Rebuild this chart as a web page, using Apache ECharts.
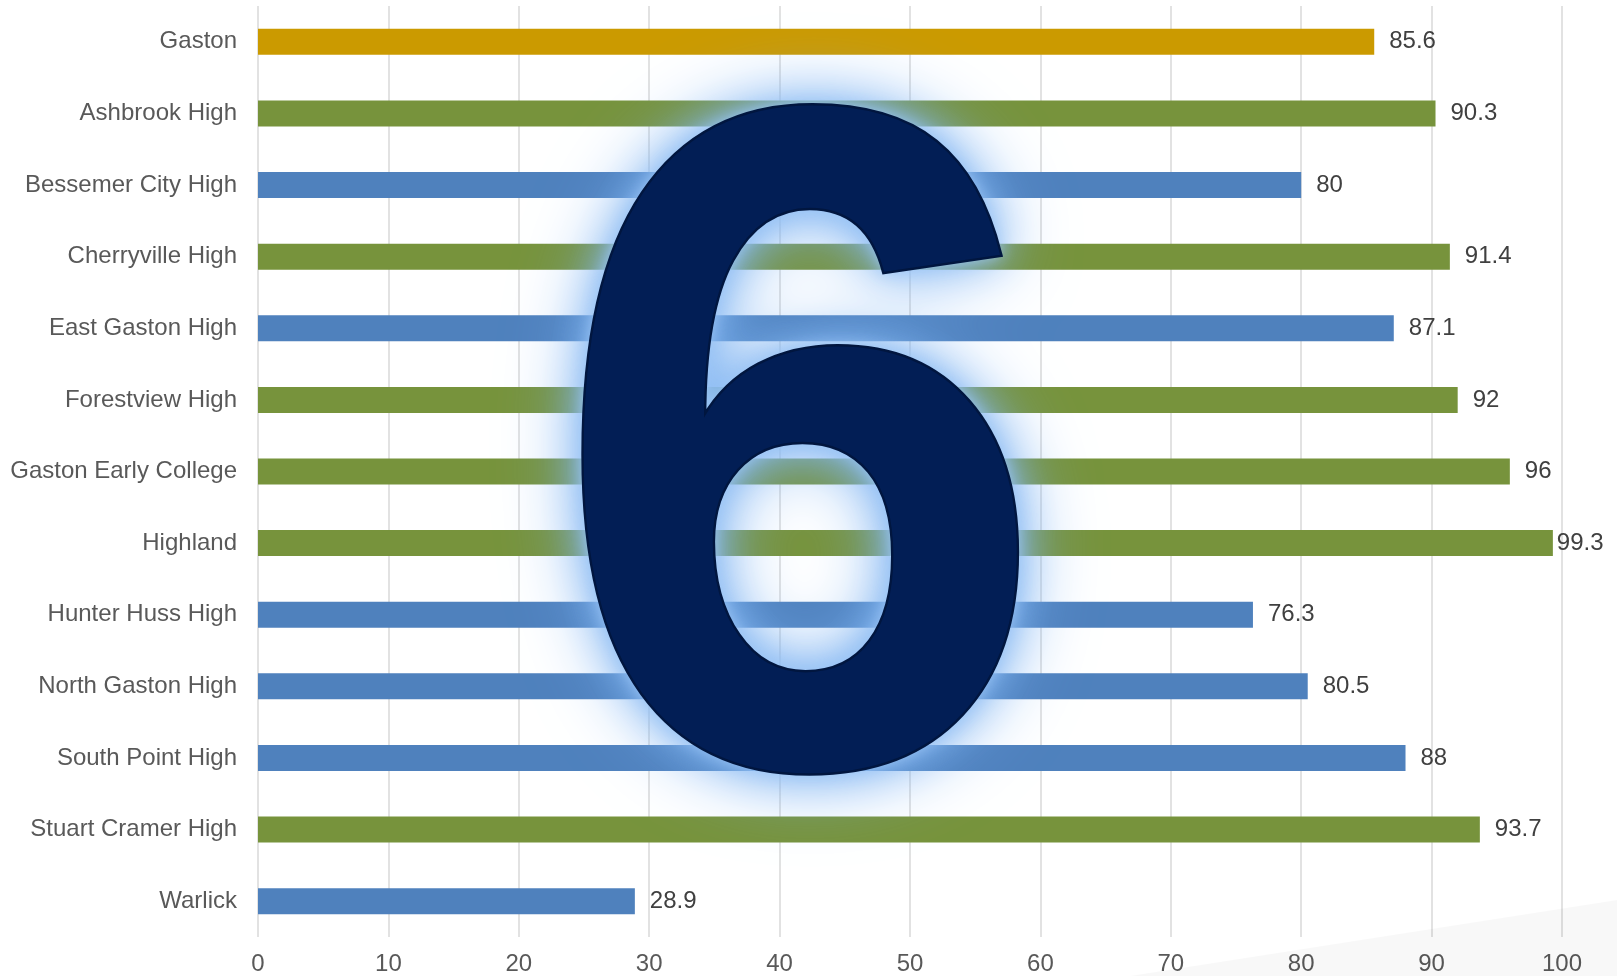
<!DOCTYPE html>
<html>
<head>
<meta charset="utf-8">
<script src="https://cdn.jsdelivr.net/npm/echarts@6/dist/echarts.min.js"></script>
<style>
html,body{margin:0;padding:0;background:#fff;}
#chart{width:1617px;height:976px;}
</style>
</head>
<body>
<div id="chart"></div>
<script>
const categories = ['Gaston','Ashbrook High','Bessemer City High','Cherryville High','East Gaston High','Forestview High','Gaston Early College','Highland','Hunter Huss High','North Gaston High','South Point High','Stuart Cramer High','Warlick'];
const values = [85.6, 90.3, 80, 91.4, 87.1, 92, 96, 99.3, 76.3, 80.5, 88, 93.7, 28.9];
const groups = ['district','high','low','high','low','high','high','high','low','low','low','high','low'];
const xTicks = [0,10,20,30,40,50,60,70,80,90,100];
const overlayText = '6';

const groupColors = {district:'#CB9A00', high:'#77933C', low:'#4F81BD'};
const FONT = 'Liberation Sans';

const chart = echarts.init(document.getElementById('chart'), null, {renderer:'canvas'});
const data = values.map((v,i)=>{
  const item = {value:v, itemStyle:{color:groupColors[groups[i]]}};
  if (v > 98) item.label = {distance:4};
  return item;
});
function sixLayer(z, extra){
  return Object.assign({type:'text', z:z, x:800, y:504, scaleX:0.95, scaleY:1, silent:true,
    style:Object.assign({text:overlayText, x:0, y:0, fontSize:943, fontWeight:'bold', fontFamily:FONT,
      textAlign:'center', textVerticalAlign:'middle', fill:'#021E55'}, extra)});
}
chart.setOption({
  animation:false,
  backgroundColor:'#ffffff',
  grid:{left:258, right:55, top:6, bottom:39, containLabel:false},
  xAxis:{
    type:'value', min:xTicks[0], max:xTicks[xTicks.length-1], interval:xTicks[1]-xTicks[0],
    axisLine:{show:false}, axisTick:{show:false},
    axisLabel:{fontSize:24, color:'#595959', fontFamily:FONT, margin:15},
    splitLine:{show:true, lineStyle:{color:'#D9D9D9', width:1.5}}
  },
  yAxis:{
    type:'category', data:categories, inverse:true,
    axisLine:{show:false}, axisTick:{show:false},
    axisLabel:{fontSize:24, color:'#595959', fontFamily:FONT, margin:21, padding:[4,0,0,0]},
    splitLine:{show:false}
  },
  series:[{
    type:'bar', data:data, barWidth:26,
    label:{show:true, position:'right', distance:15, fontSize:24, color:'#404040', fontFamily:FONT, padding:[4,0,0,0]},
    z:2
  }],
  graphic:[
    {type:'polygon', z:1, silent:true, shape:{points:[[1130,976],[1617,900],[1617,976]]},
     style:{fill:'rgba(0,0,0,0.028)'}},
    sixLayer(100, {textShadowBlur:80, textShadowColor:'rgba(120,175,240,1)'}),
    sixLayer(101, {textShadowBlur:40, textShadowColor:'rgba(140,188,244,1)'}),
    sixLayer(102, {textShadowBlur:16, textShadowColor:'rgba(160,200,246,1)'}),
    sixLayer(103, {fill:'#021E55', stroke:'#01163F', lineWidth:5})
  ]
});
</script>
</body>
</html>
